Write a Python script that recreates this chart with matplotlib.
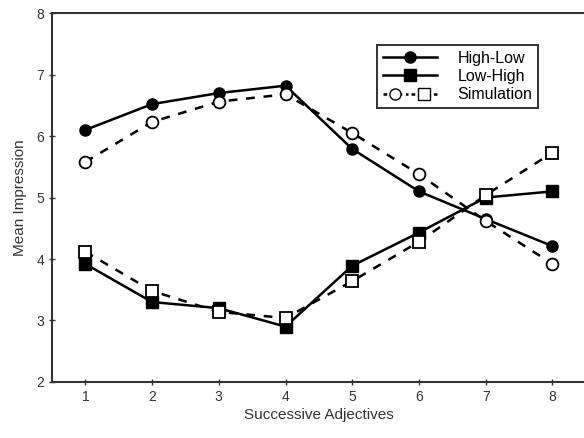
import numpy as np
import matplotlib.pyplot as plt
from matplotlib.lines import Line2D
from matplotlib.legend_handler import HandlerTuple

plt.rcParams['font.family'] = ['Liberation Sans', 'DejaVu Sans']

# successive adjective positions
positions = [1, 2, 3, 4, 5, 6, 7, 8]

# observed data
high_low = [6.1, 6.52, 6.7, 6.82, 5.79, 5.1, 4.65, 4.21]
low_high = [3.92, 3.3, 3.2, 2.9, 3.89, 4.43, 5.0, 5.1]

# simulation
sim_high_low = [5.58, 6.23, 6.56, 6.68, 6.05, 5.38, 4.62, 3.92]
sim_low_high = [4.12, 3.48, 3.14, 3.04, 3.64, 4.28, 5.04, 5.73]

fig = plt.figure(figsize=(5.84, 4.38), dpi=100)
ax = fig.add_axes([0.089, 0.128, 0.914, 0.842])

ax.plot(positions, high_low, color='black', lw=1.8, marker='o', ms=8,
        mfc='black', mec='black', zorder=3)
ax.plot(positions, low_high, color='black', lw=1.8, marker='s', ms=8,
        mfc='black', mec='black', zorder=3)
ax.plot(positions, sim_high_low, color='black', lw=1.8, ls=(0, (3.5, 3.5)),
        marker='o', ms=8.5, mfc='white', mec='black', mew=1.3, zorder=4)
ax.plot(positions, sim_low_high, color='black', lw=1.8, ls=(0, (3.5, 3.5)),
        marker='s', ms=8.5, mfc='white', mec='black', mew=1.3, zorder=4)

# legend: simulation entry shows both open markers
h1 = Line2D([], [], color='black', lw=1.8, marker='o', ms=8, mfc='black')
h2 = Line2D([], [], color='black', lw=1.8, marker='s', ms=8, mfc='black')
h3a = Line2D([], [], color='black', lw=1.8, ls=(0, (1.5, 1.5)), marker='o', ms=8, mfc='white')
h3b = Line2D([], [], color='black', lw=1.8, ls=(0, (1.5, 1.5)), marker='s', ms=8, mfc='white')
leg = ax.legend([h1, h2, (h3a, h3b)], ['High-Low', 'Low-High', 'Simulation'],
                handler_map={tuple: HandlerTuple(ndivide=None, pad=0.2)},
                loc='upper left', bbox_to_anchor=(0.609, 0.913),
                frameon=True, fancybox=False, edgecolor='black',
                fontsize=11.5, handlelength=3.4, borderpad=0.35,
                labelspacing=0.2, handletextpad=1.3, borderaxespad=0)
leg.get_frame().set_linewidth(1.4)

ax.set_xlim(0.5, 8.5)
ax.set_ylim(2, 8)
ax.set_xticks(positions)
ax.set_yticks([2, 3, 4, 5, 6, 7, 8])
ax.tick_params(direction='inout', length=4, width=1, labelsize=10, colors='#333333')
ax.spines['right'].set_visible(False)
for s in ['left', 'top', 'bottom']:
    ax.spines[s].set_linewidth(1.5)
    ax.spines[s].set_color('#333333')

ax.set_xlabel('Successive Adjectives', fontsize=11, color='#333333', labelpad=3)
ax.set_ylabel('Mean Impression', fontsize=11, color='#333333', labelpad=7)

fig.savefig('out.png', dpi=100)
